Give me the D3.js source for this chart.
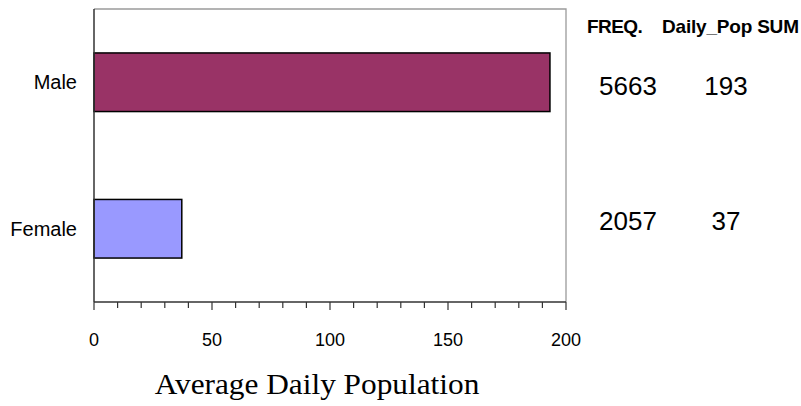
<!DOCTYPE html>
<html>
<head>
<meta charset="utf-8">
<script src="https://cdn.jsdelivr.net/npm/d3@7"></script>
<style>
  html, body { margin: 0; padding: 0; background: #fff; }
  svg { display: block; }
  text { font-family: Arial, "Liberation Sans", Helvetica, sans-serif; fill: #000; }
</style>
</head>
<body>
<svg id="chart" width="801" height="406"></svg>
<script>
// ---- data ----
const categories = ["Male", "Female"];
const dailyPop = [193.2, 37.2];           // bar lengths (average daily population)
const freqValues = [5663, 2057];           // FREQ. column
const sumValues = [193, 37];               // Daily_Pop SUM column
const tableHeaders = ["FREQ.", "Daily_Pop SUM"];
const xTicks = [0, 50, 100, 150, 200];
const xDomain = [0, 200];
const axisTitle = "Average Daily Population";
const barColors = ["#993366", "#9999FF"];

// ---- layout ----
const svg = d3.select("#chart");
const pL = 94, pR = 566, pT = 9, pB = 302;

const x = d3.scaleLinear().domain(xDomain).range([pL, pR]);
const y = d3.scaleBand().domain(categories).range([pT, pB])
  .paddingInner(0.6).paddingOuter(0.3);

// plot frame: top & right light gray
svg.append("path")
  .attr("d", `M${pL},${pT}H${pR}V${pB}`)
  .attr("fill", "none").attr("stroke", "#9a9a9a").attr("stroke-width", 1.3);

// bars
svg.append("g").selectAll("rect")
  .data(categories)
  .join("rect")
  .attr("x", x(0))
  .attr("y", d => y(d))
  .attr("width", (d, i) => x(dailyPop[i]) - x(0))
  .attr("height", y.bandwidth())
  .attr("fill", (d, i) => barColors[i])
  .attr("stroke", "#000")
  .attr("stroke-width", 1.5);

// left axis line
svg.append("line")
  .attr("x1", pL).attr("x2", pL).attr("y1", pT).attr("y2", pB)
  .attr("stroke", "#333").attr("stroke-width", 1.5);

// category labels
svg.append("g").selectAll("text")
  .data(categories)
  .join("text")
  .attr("x", pL - 17)
  .attr("y", d => y(d) + y.bandwidth() / 2)
  .attr("dy", "0.35em")
  .attr("text-anchor", "end")
  .style("font-size", "20px")
  .text(d => d);

// bottom axis with minor ticks
const minor = d3.range(xDomain[0], xDomain[1] + 1, 10);
const gx = svg.append("g").attr("transform", `translate(0,${pB})`);
gx.append("line").attr("x1", pL).attr("x2", pR)
  .attr("stroke", "#333").attr("stroke-width", 1.5);
gx.selectAll("line.tick")
  .data(minor)
  .join("line")
  .attr("class", "tick")
  .attr("x1", d => x(d)).attr("x2", d => x(d))
  .attr("y1", 0).attr("y2", d => (d % 50 === 0 ? 8 : 6))
  .attr("stroke", "#333").attr("stroke-width", 1.2);
gx.selectAll("text")
  .data(xTicks)
  .join("text")
  .attr("x", d => x(d))
  .attr("y", 44)
  .attr("text-anchor", "middle")
  .style("font-size", "18px")
  .text(d => d);

// axis title (slightly stretched horizontally like the reference)
svg.append("text")
  .attr("transform", "translate(317,394) scale(1.08,1)")
  .attr("text-anchor", "middle")
  .style("font-family", "'Liberation Serif', 'Times New Roman', serif")
  .style("font-size", "29px")
  .text(axisTitle);

// table on the right
const colX = d3.scalePoint().domain([0, 1]).range([628, 726]);
const rowY = d3.scalePoint().domain(categories).range([95, 230]);

svg.append("text").attr("x", 587).attr("y", 33)
  .style("font-size", "19px").style("font-weight", "bold").style("letter-spacing", "-0.6px")
  .text(tableHeaders[0]);
svg.append("text").attr("x", 662).attr("y", 33)
  .style("font-size", "19px").style("font-weight", "bold").style("letter-spacing", "-0.2px")
  .text(tableHeaders[1]);

const tbl = svg.append("g");
tbl.selectAll("text.freq")
  .data(categories)
  .join("text")
  .attr("class", "freq")
  .attr("x", colX(0))
  .attr("y", d => rowY(d))
  .attr("text-anchor", "middle")
  .style("font-size", "26px")
  .text((d, i) => freqValues[i]);
tbl.selectAll("text.sum")
  .data(categories)
  .join("text")
  .attr("class", "sum")
  .attr("x", colX(1))
  .attr("y", d => rowY(d))
  .attr("text-anchor", "middle")
  .style("font-size", "26px")
  .text((d, i) => sumValues[i]);
</script>
</body>
</html>
